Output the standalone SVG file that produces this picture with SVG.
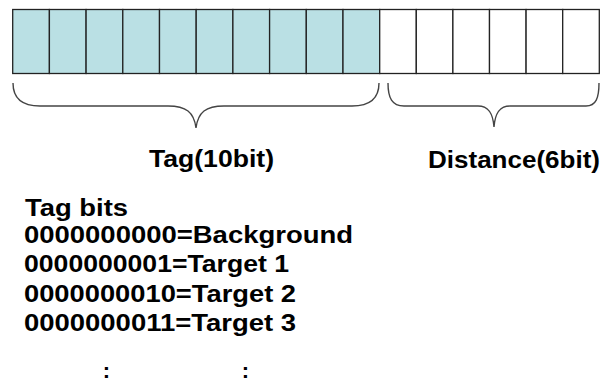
<svg xmlns="http://www.w3.org/2000/svg" width="610" height="382" viewBox="0 0 610 382">
<style>
.tag{fill:#BAE0E4;stroke:#222;stroke-width:1.3}
.dist{fill:#fff;stroke:#222;stroke-width:1.3}
.brace{fill:none;stroke:#444;stroke-width:1.4}
text{font-family:"Liberation Sans",Arial,sans-serif;font-weight:bold;font-size:24px;fill:#000}
.dots{font-size:22px}
</style>
<rect width="610" height="382" fill="#fff"/>
<g id="tag-field">
<rect class="tag" x="12.7" y="9.5" width="36.7" height="64"/>
<rect class="tag" x="49.4" y="9.5" width="36.7" height="64"/>
<rect class="tag" x="86.1" y="9.5" width="36.7" height="64"/>
<rect class="tag" x="122.8" y="9.5" width="36.7" height="64"/>
<rect class="tag" x="159.5" y="9.5" width="36.7" height="64"/>
<rect class="tag" x="196.2" y="9.5" width="36.7" height="64"/>
<rect class="tag" x="232.9" y="9.5" width="36.7" height="64"/>
<rect class="tag" x="269.6" y="9.5" width="36.7" height="64"/>
<rect class="tag" x="306.3" y="9.5" width="36.7" height="64"/>
<rect class="tag" x="343" y="9.5" width="36.7" height="64"/>
</g>
<g id="distance-field">
<rect class="dist" x="379.7" y="9.5" width="36.6" height="64"/>
<rect class="dist" x="416.3" y="9.5" width="36.6" height="64"/>
<rect class="dist" x="452.9" y="9.5" width="36.6" height="64"/>
<rect class="dist" x="489.5" y="9.5" width="36.6" height="64"/>
<rect class="dist" x="526.1" y="9.5" width="36.6" height="64"/>
<rect class="dist" x="562.7" y="9.5" width="36.6" height="64"/>
</g>
<g id="braces">
<path class="brace" d="M13,83 C13,98 22,106 40,106 L168,106 C186,106 194,112 196,128 C198,112 206,106 224,106 L352,106 C370,106 379,98 379,83"/>
<path class="brace" d="M388,83 C388,98 392,106 404,106 L478,106 C489,106 493,114 494,127 C495,114 499,106 510,106 L586,106 C596,106 599,98 599,83"/>
</g>
<g id="labels">
<text x="149" y="167" textLength="125" lengthAdjust="spacingAndGlyphs">Tag(10bit)</text>
<text x="428" y="168" textLength="172" lengthAdjust="spacingAndGlyphs">Distance(6bit)</text>
</g>
<g id="legend">
<text x="25" y="216" textLength="103" lengthAdjust="spacingAndGlyphs">Tag bits</text>
<text x="24" y="243" textLength="329" lengthAdjust="spacingAndGlyphs">0000000000=Background</text>
<text x="24" y="272" textLength="265" lengthAdjust="spacingAndGlyphs">0000000001=Target 1</text>
<text x="24" y="301.5" textLength="272" lengthAdjust="spacingAndGlyphs">0000000010=Target 2</text>
<text x="24" y="331" textLength="272" lengthAdjust="spacingAndGlyphs">0000000011=Target 3</text>
<text class="dots" x="106.5" y="377.5" text-anchor="middle">:</text>
<text class="dots" x="245.5" y="377.5" text-anchor="middle">:</text>
</g>
</svg>
